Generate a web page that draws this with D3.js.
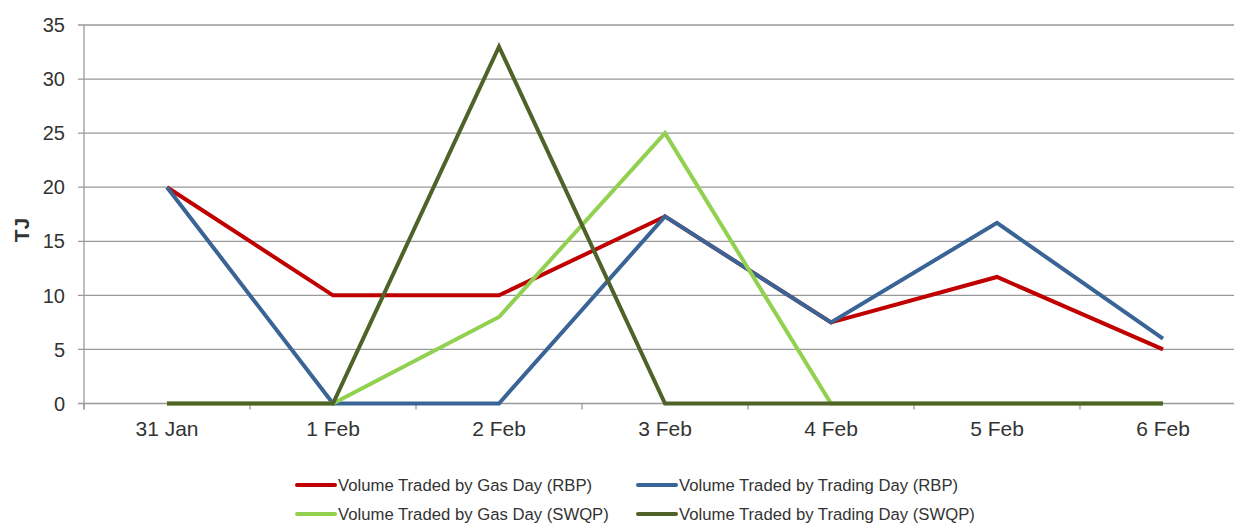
<!DOCTYPE html>
<html><head><meta charset="utf-8">
<script src="https://cdn.jsdelivr.net/npm/d3@7"></script>
<style>body{margin:0;background:#fff;}svg{display:block;font-family:"Liberation Sans",Arial,sans-serif;}</style>
</head><body>
<script>
const categories = ["31 Jan","1 Feb","2 Feb","3 Feb","4 Feb","5 Feb","6 Feb"];
const gasDayRBP = [20,10,10,17.3,7.5,11.7,5];
const tradingDayRBP = [20,0,0,17.3,7.5,16.7,6];
const gasDaySWQP = [0,0,8,25,0,0,0];
const tradingDaySWQP = [0,0,33,0,0,0,0];
const yTicks = [0,5,10,15,20,25,30,35];
const seriesNames = ["Volume Traded by Gas Day (RBP)","Volume Traded by Trading Day (RBP)","Volume Traded by Gas Day (SWQP)","Volume Traded by Trading Day (SWQP)"];
const seriesColors = ["#C00000","#3A6496","#92D050","#4F6228"];
const seriesData = [gasDayRBP, tradingDayRBP, gasDaySWQP, tradingDaySWQP];

const W=1234,H=523;
const svg=d3.select("body").append("svg").attr("width",W).attr("height",H);
const x=d3.scaleBand().domain(categories).range([84,1246]);
const y=d3.scaleLinear().domain([0,35]).range([403.5,25]);

svg.append("g").selectAll("line").data(yTicks).join("line")
  .attr("x1",78).attr("x2",W).attr("y1",d=>y(d)).attr("y2",d=>y(d))
  .attr("stroke","#999").attr("stroke-width",1.3);
svg.append("line").attr("x1",84).attr("x2",84).attr("y1",y(35)).attr("y2",y(0)+6).attr("stroke","#999").attr("stroke-width",1.3);
svg.append("g").selectAll("line").data(d3.range(categories.length+1)).join("line")
  .attr("x1",i=>84+i*x.step()).attr("x2",i=>84+i*x.step()).attr("y1",y(0)).attr("y2",y(0)+6)
  .attr("stroke","#999").attr("stroke-width",1.3);
svg.append("g").selectAll("text").data(yTicks).join("text")
  .attr("x",65).attr("y",d=>y(d)).attr("dy","0.36em").attr("text-anchor","end")
  .attr("font-size",20).attr("fill","#333").text(d=>d);
svg.append("g").selectAll("text").data(categories).join("text")
  .attr("x",d=>x(d)+x.bandwidth()/2).attr("y",436).attr("text-anchor","middle")
  .attr("font-size",21).attr("fill","#333").text(d=>d);
svg.append("text").attr("transform","translate(29,230) rotate(-90)").attr("text-anchor","middle")
  .attr("font-size",21).attr("font-weight","bold").attr("fill","#333").text("TJ");

const line=d3.line().x((d,i)=>x(categories[i])+x.bandwidth()/2).y(d=>y(d));
seriesData.forEach((s,k)=>{
  svg.append("path").datum(s).attr("d",line).attr("fill","none")
    .attr("stroke",seriesColors[k]).attr("stroke-width",4).attr("stroke-linejoin","miter");
});

const legPos=[[297,485],[638,485],[297,514],[638,514]];
seriesNames.forEach((n,k)=>{
  const [lx,ly]=legPos[k];
  svg.append("line").attr("x1",lx).attr("x2",lx+38).attr("y1",ly).attr("y2",ly)
    .attr("stroke",seriesColors[k]).attr("stroke-width",4).attr("stroke-linecap","round");
  svg.append("text").attr("x",lx+41).attr("y",ly).attr("dy","0.36em")
    .attr("font-size",16.7).attr("fill","#333").text(n);
});
</script>
</body></html>
